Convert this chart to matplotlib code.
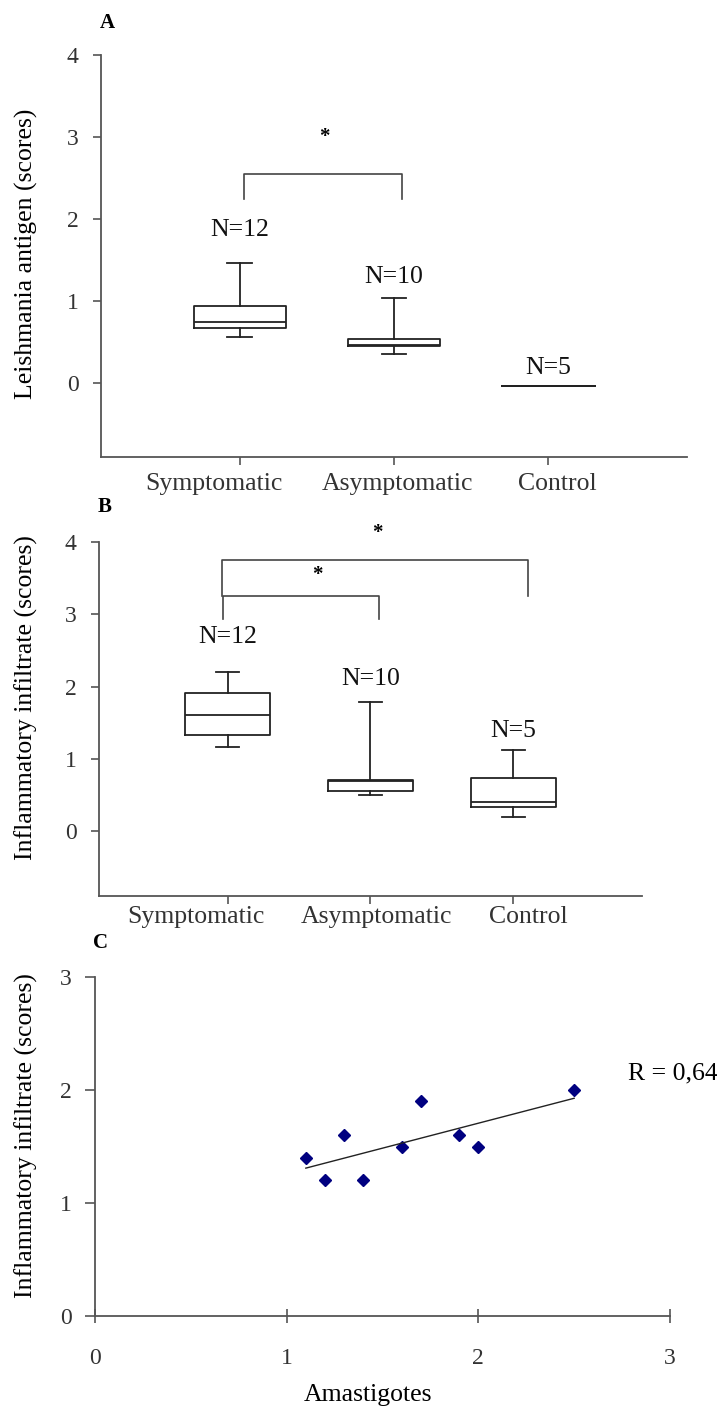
#!/usr/bin/env python3
"""
Three-panel figure: Leishmania antigen / inflammatory infiltrate box plots
by clinical group, plus a scatter of infiltrate vs amastigotes.

Output: out.png
"""

import matplotlib.pyplot as plt
import matplotlib.transforms as mtransforms
import numpy as np

plt.rcParams['font.family'] = ['Liberation Serif', 'DejaVu Serif']

# --- Data ---
groups = ['Symptomatic', 'Asymptomatic', 'Control']
n_counts = [12, 10, 5]

# Panel A: Leishmania antigen (scores)
a_whislo = [0.56, 0.35, -0.04]
a_q1     = [0.67, 0.45, -0.04]
a_med    = [0.75, 0.47, -0.04]
a_q3     = [0.94, 0.54, -0.04]
a_whishi = [1.46, 1.04, -0.04]

# Panel B: inflammatory infiltrate (scores)
b_whislo = [1.16, 0.50, 0.19]
b_q1     = [1.33, 0.55, 0.33]
b_med    = [1.60, 0.69, 0.40]
b_q3     = [1.91, 0.71, 0.73]
b_whishi = [2.20, 1.78, 1.12]

# Panel C: amastigotes vs inflammatory infiltrate
amastigotes = [1.1, 1.2, 1.3, 1.4, 1.6, 1.7, 1.9, 2.0, 2.5]
infiltrate  = [1.4, 1.2, 1.6, 1.2, 1.5, 1.9, 1.6, 1.5, 2.0]
r_text = 'R = 0,64'

# --- Layout helpers (label heights, brackets, tick-label nudges in px) ---
a_nlabel_y = [1.87, 1.29, 0.18]
b_nlabel_y = [2.68, 2.10, 1.38]
a_label_shift = [-26, 3, 9]
b_label_shift = [-32, 6, 15]
# (x_left, x_right, leg_bottom, bar_top, star_x, star_y)
a_brackets = [(1.03, 2.05, 2.25, 2.55, 1.55, 3.00)]
b_brackets = [(0.97, 2.06, 2.93, 3.25, 1.63, 3.54),
              (0.96, 3.10, 3.25, 3.75, 2.05, 4.12)]

AXIS_COL = '#555555'
LINE_COL = '#222222'
TXT = 18.5

fig = plt.figure(figsize=(7.17, 14.16), dpi=100)
fig.patch.set_facecolor('white')


def style_axes(ax):
    ax.spines['top'].set_visible(False)
    ax.spines['right'].set_visible(False)
    for s in ('left', 'bottom'):
        ax.spines[s].set_color(AXIS_COL)
        ax.spines[s].set_linewidth(1.3)
    ax.tick_params(colors=AXIS_COL, width=1.2, labelcolor='#333333')


def box_panel(ax, whislo, q1, med, q3, whishi, nlab_y, brackets, ydrop, shifts):
    stats = []
    for i in range(len(groups)):
        stats.append(dict(whislo=whislo[i], q1=q1[i], med=med[i], q3=q3[i],
                          whishi=whishi[i], fliers=[], label=groups[i]))
    lp = dict(color=LINE_COL, linewidth=1.3)
    ax.bxp(stats, positions=[1, 2, 3], widths=0.6, showfliers=False,
           boxprops=lp, whiskerprops=lp, capprops=lp, medianprops=lp,
           capwidths=0.16)
    for i, n in enumerate(n_counts):
        ax.text(i + 1, nlab_y[i], f'N={n}', ha='center', va='center',
                fontsize=TXT, color='#111111')
    for (x0, x1, yb, yt, sx, sy) in brackets:
        ax.plot([x0, x0, x1, x1], [yb, yt, yt, yb], color='#444444',
                linewidth=1.2, clip_on=False, solid_joinstyle='round')
        ax.text(sx, sy, '*', ha='center', va='center', fontsize=15,
                fontweight='bold', clip_on=False)
    ax.set_xlim(0.1, 3.9)
    ax.set_ylim(-0.9, 4.0)
    ax.set_yticks([0, 1, 2, 3, 4])
    ax.set_xticks([1, 2, 3])
    ax.set_xticklabels([])
    ax.tick_params(axis='y', direction='out', length=6, pad=10, labelsize=17)
    ax.tick_params(axis='x', direction='out', length=6)
    # category labels, nudged sideways like the original layout
    for i, (name, dx) in enumerate(zip(groups, shifts)):
        off = mtransforms.ScaledTranslation(dx / 100, -ydrop / 100,
                                            fig.dpi_scale_trans)
        ax.text(i + 1, 0, name, transform=ax.get_xaxis_transform() + off,
                ha='center', va='top', fontsize=TXT, color='#333333')
    style_axes(ax)


# --- Panel A ---
axA = fig.add_axes([0.1409, 0.6773, 0.8173, 0.2839])
box_panel(axA, a_whislo, a_q1, a_med, a_q3, a_whishi, a_nlabel_y,
          a_brackets, ydrop=16, shifts=a_label_shift)
fig.text(100 / 717, 1 - 23 / 1416, 'A', fontsize=15, fontweight='bold',
         ha='left', va='center')
fig.text(26 / 717, 1 - 254 / 1416, 'Leishmania antigen (scores)',
         rotation=90, ha='center', va='center', fontsize=TXT)

# --- Panel B ---
axB = fig.add_axes([0.138, 0.3672, 0.7574, 0.25])
box_panel(axB, b_whislo, b_q1, b_med, b_q3, b_whishi, b_nlabel_y,
          b_brackets, ydrop=10, shifts=b_label_shift)
fig.text(98 / 717, 1 - 507 / 1416, 'B', fontsize=15, fontweight='bold',
         ha='left', va='center')
fig.text(26 / 717, 1 - 698 / 1416, 'Inflammatory infiltrate (scores)',
         rotation=90, ha='center', va='center', fontsize=TXT)

# --- Panel C ---
axC = fig.add_axes([0.1325, 0.0706, 0.8019, 0.2394])
axC.plot(amastigotes, infiltrate, linestyle='none', marker='D',
         markersize=6.5, color='#000080')
slope, icpt = np.polyfit(amastigotes, infiltrate, 1)
xs = np.array([min(amastigotes), max(amastigotes)])
axC.plot(xs, slope * xs + icpt, color='#222222', linewidth=1.0)
axC.text(2.78, 2.15, r_text, ha='left', va='center', fontsize=TXT,
         clip_on=False)
axC.set_xlim(0, 3)
axC.set_ylim(0, 3)
axC.set_xticks([0, 1, 2, 3])
axC.set_yticks([0, 1, 2, 3])
axC.tick_params(axis='x', direction='inout', length=10, pad=18, labelsize=17)
axC.tick_params(axis='y', direction='out', length=7, pad=10, labelsize=17)
style_axes(axC)
fig.text(93 / 717, 1 - 943 / 1416, 'C', fontsize=15, fontweight='bold',
         ha='left', va='center')
fig.text(26 / 717, 1 - 1136 / 1416, 'Inflammatory infiltrate (scores)',
         rotation=90, ha='center', va='center', fontsize=TXT)
fig.text(368 / 717, 1 - 1395 / 1416, 'Amastigotes', ha='center',
         va='center', fontsize=TXT)

plt.savefig('out.png', dpi=100, facecolor='white')
plt.close()
print('Saved out.png')
